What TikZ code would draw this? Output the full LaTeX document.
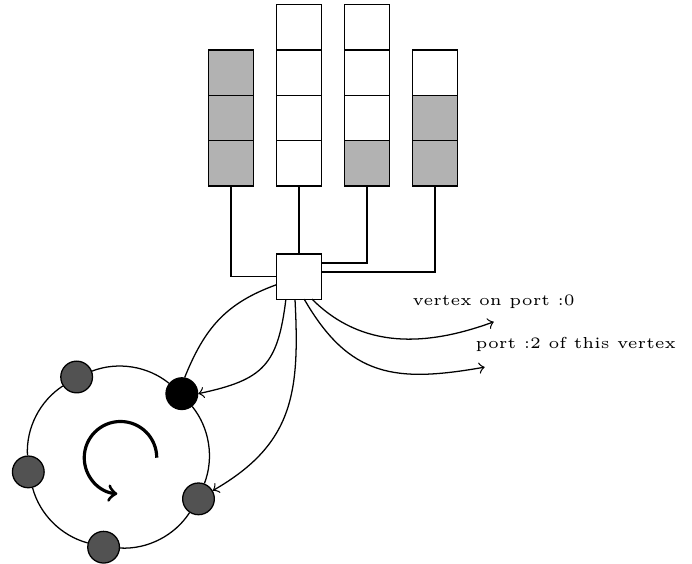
\documentclass[tikz,border=0pt]{standalone}
\usetikzlibrary{positioning,calc}

\begin{document}
\begin{tikzpicture}
    \pgfmathsetmacro{\cellsize}{0.5}
    \pgfmathsetmacro{\stackgap}{0.75}
    \pgfmathsetmacro{\ringradius}{1}
    \pgfmathsetmacro{\vertexsize}{0.35}
    \providecommand{\labelfontsize}{\tiny}
    \tikzset{
        cell/.style={draw,fill=white,minimum size=\cellsize cm,inner sep=0,outer sep=0},
        taken/.style={cell,fill=black!30},
        vertex/.style={circle,draw,fill=black!68,minimum size=\vertexsize cm,inner sep=0},
        ringedge/.style={bend right=30,looseness=0.9},
        portlabel/.style={font=\labelfontsize,inner sep=0},
        node distance=0
    }
    \useasboundingbox (-3.3,-3.173) rectangle (4.338,3.052);
    % the vertex and its four queues
    \node[cell] (r) at (0,0) {};
    \node[taken] (qa1) at (-\stackgap,1.25) {};
    \node[taken,above=of qa1] (qa2) {};
    \node[taken,above=of qa2] (qa3) {};
    \node[cell] (qb1) at (0,1.25) {};
    \node[cell,above=of qb1] (qb2) {};
    \node[cell,above=of qb2] (qb3) {};
    \node[cell,above=of qb3] (qb4) {};
    \node[taken] (qc1) at (\stackgap,1.25) {};
    \node[cell,above=of qc1] (qc2) {};
    \node[cell,above=of qc2] (qc3) {};
    \node[cell,above=of qc3] (qc4) {};
    \node[taken] (qd1) at (2*\stackgap,1.25) {};
    \node[taken,above=of qd1] (qd2) {};
    \node[cell,above=of qd2] (qd3) {};
    \draw (qa1.south) |- (r.west);
    \draw (qb1.south) -- (r.north);
    \draw (qc1.south) |- ($(r.north east)+(0,-0.1)$);
    \draw (qd1.south) |- ($(r.north east)+(0,-0.2)$);
    % the ring
    \coordinate (ring) at (-2,-2);
    \node[vertex,fill=black] (v1) at ($(ring)+(45:\ringradius)$) {};
    \node[vertex] (v2) at ($(ring)+(117:\ringradius)$) {};
    \node[vertex] (v3) at ($(ring)+(189:\ringradius)$) {};
    \node[vertex] (v4) at ($(ring)+(261:\ringradius)$) {};
    \node[vertex] (v5) at ($(ring)+(333:\ringradius)$) {};
    \draw (v1) to[ringedge] (v2);
    \draw (v2) to[ringedge] (v3);
    \draw (v3) to[ringedge] (v4);
    \draw (v4) to[ringedge] (v5);
    \draw (v5) to[ringedge] (v1);
    \draw[line width=1pt,->] ($(ring)+(0.43,0)$) arc[start angle=0,end angle=265,radius=0.4];
    % links out of the vertex
    \coordinate (port0) at (2.15,-0.5);
    \coordinate (port2) at (2.05,-1);
    \draw (r.200) to[out=200,in=68,looseness=1.05] (v1.80);
    \draw[->] (r.240) to[out=263,in=12,looseness=1.32] (v1.east);
    \draw[->] (r.260) to[out=273,in=30,looseness=1.15] (v5);
    \draw[->] (r.300) to[out=315,in=200] (port0);
    \draw[->] (r.283) to[out=300,in=190,looseness=1.2] (port2);
    \node[portlabel,anchor=base] (l0) at ($(port0)+(0,0.175)$) {vertex on port :0};
    \node[portlabel,anchor=base west] (l2) at ($(port2)+(-0.107,0.208)$) {port :2 of this vertex};
\end{tikzpicture}
\end{document}
